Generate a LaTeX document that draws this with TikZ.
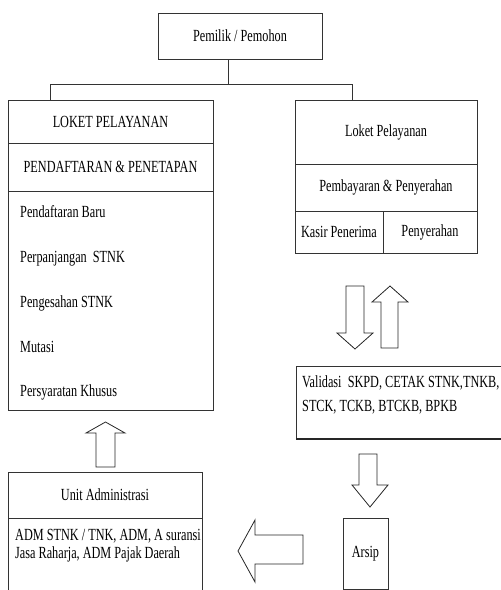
\documentclass[tikz,border=0pt]{standalone}
\usepackage{fontspec}
\setmainfont{Liberation Serif}[FakeStretch=0.72]
\usetikzlibrary{positioning}

\begin{document}
\begin{tikzpicture}[x=1pt, y=-1pt,
  font=\fontsize{17}{18}\selectfont,
  box/.style={draw=black!80, line width=0.8pt, inner sep=0pt, outer sep=0pt, minimum width=#1},
  box/.default=205pt,
  item/.style={anchor=west, inner sep=0pt},
  con/.style={draw=black!80, line width=0.8pt},
  blk/.style={draw=black!85, line width=0.8pt, fill=white, line join=miter},
]
\useasboundingbox (0,0) rectangle (501,590);
% ================= TOP =================
\node[box=164pt, minimum height=46pt] (pm) at (240,36) {Pemilik / Pemohon};
% left counter
\node[box, minimum height=43pt] (lkt) at (110.5,121.5) {LOKET PELAYANAN};
\node[box, minimum height=48pt, below=0pt of lkt] (lkp) {PENDAFTARAN \& PENETAPAN};
\node[box, minimum height=219pt, below=0pt of lkp] (lkl) {};
\node[item] (i1) at (20,212) {Pendaftaran Baru};
\node[item] (i2) at (20,259) {Perpanjangan~ STNK};
\node[item] (i3) at (20,303) {Pengesahan STNK};
\node[item] (i4) at (20,347) {Mutasi};
\node[item] (i5) at (20,392) {Persyaratan Khusus};
% right counter
\node[box=182pt, minimum height=64pt] (rkt) at (386,132) {Loket Pelayanan};
\node[box=182pt, minimum height=47pt, below=0pt of rkt] (rkp) {Pembayaran \& Penyerahan};
\node[box=88pt, minimum height=42pt, anchor=north west] (rkk) at (rkp.south west) {Kasir Penerima};
\node[box=94pt, minimum height=42pt, anchor=north east] (rks) at (rkp.south east) {Penyerahan};
% tree lines
\coordinate (jn) at (228,84);
\coordinate (jl) at (50,84);
\coordinate (jr) at (352,84);
\draw[con] (pm.south -| jn) -- (jn);
\draw[con] (jl |- lkt.north) -- (jl) -- (jr) -- (jr |- rkt.north);
% ================= BOTTOM =================
\begin{scope}
\clip (0,0) rectangle (501,590);
\node[box=210pt, minimum height=73pt, anchor=north west] (val) at (296,366) {};
\draw[line width=1.6pt, black!85] (val.south west) -- (val.south east);
\node[box=194pt, minimum height=46pt, anchor=north west] (ua) at (8,472) {Unit Administrasi};
\node[box=194pt, minimum height=80pt, anchor=north west] (ub) at (8,518) {};
\end{scope}
\node[item, align=left, font=\fontsize{17}{24}\selectfont] (valt) at (302,395) {Validasi~ SKPD, CETAK STNK,TNKB,\\STCK, TCKB, BTCKB, BPKB};
\node[item, align=left] (ubt) at (15,546) {ADM STNK / TNK, ADM, A suransi\\Jasa Raharja, ADM Pajak Daerah};
\node[box=45pt, minimum height=71pt, anchor=north west] (ar) at (343,518) {Arsip};
% block arrows
\draw[blk] (346,286) -- (364,286) -- (364,333) -- (373,333) -- (355,349) -- (337,333) -- (346,333) -- cycle;
\draw[blk] (381,348) -- (398,348) -- (398,302) -- (408,302) -- (390,286) -- (372,302) -- (381,302) -- cycle;
\draw[blk] (359,454) -- (377,454) -- (377,485) -- (388,485) -- (370,507) -- (352,485) -- (359,485) -- cycle;
\draw[blk] (96,467) -- (115,467) -- (115,433) -- (125,433) -- (105.5,422) -- (86,433) -- (96,433) -- cycle;
\draw[blk] (303,535) -- (303,564) -- (255,564) -- (255,582) -- (238,551) -- (255,520) -- (255,535) -- cycle;
\end{tikzpicture}
\end{document}
